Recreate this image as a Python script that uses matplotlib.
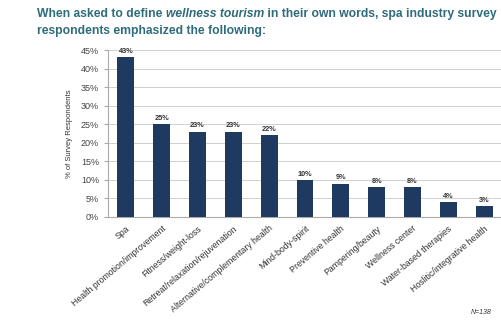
import numpy as np
import matplotlib.pyplot as plt
from matplotlib.transforms import offset_copy

categories = ["Spa", "Health promotion/improvement", "Fitness/weight-loss",
              "Retreat/relaxation/rejuvenation", "Alternative/complementary health",
              "Mind-body-spirit", "Preventive health", "Pampering/beauty",
              "Wellness center", "Water-based therapies", "Hoslitic/integrative health"]
values = [43, 25, 23, 23, 22, 10, 9, 8, 8, 4, 3]
y_ticks = [0, 5, 10, 15, 20, 25, 30, 35, 40, 45]

bar_color = "#1f3a60"
title_color = "#2e6b7b"

plt.rcParams['font.family'] = ['Liberation Sans', 'DejaVu Sans']

fig = plt.figure(figsize=(5.02, 3.23), dpi=100)
ax = fig.add_axes([108 / 502, 1 - 217 / 323, 394 / 502, 167 / 323])

x = np.arange(len(categories))
ax.bar(x, values, width=0.47, color=bar_color, zorder=3)
for xi, v in zip(x, values):
    ax.text(xi, v + 0.6, f"{v}%", ha="center", va="bottom", fontsize=5.3,
            fontweight="bold", color="#333333")

ax.set_ylim(0, 45)
ax.set_xlim(-0.5, len(categories) - 0.5)
ax.set_yticks(y_ticks)
ax.set_yticklabels([f"{t}%" for t in y_ticks], fontsize=6.5, color="#444444")
ax.yaxis.grid(True, color="#d0d0d0", linewidth=0.7, zorder=0)
ax.set_xticks(x)
ax.set_xticklabels(categories, rotation=40, ha="right", rotation_mode="anchor",
                   fontsize=6.3, color="#333333")
ax.tick_params(axis="x", length=0, pad=5)
ax.tick_params(axis="y", length=3, color="#aaaaaa")
for s in ["top", "right"]:
    ax.spines[s].set_visible(False)
ax.spines["left"].set_color("#aaaaaa")
ax.spines["bottom"].set_color("#aaaaaa")
ax.set_ylabel("% of Survey Respondents", fontsize=5.5, color="#333333", labelpad=6)

# title: first line has an italic piece, so draw it in parts
tfs = 8.7
parts = [("When asked to define ", "normal"), ("wellness tourism", "italic"),
         (" in their own words, spa industry survey", "normal")]
renderer = fig.canvas.get_renderer()
tr = fig.transFigure
for txt, st in parts:
    t = fig.text(37 / 502, 1 - 14 / 323, txt, fontsize=tfs, fontweight="bold",
                 style=st, color=title_color, va="center", transform=tr)
    w = t.get_window_extent(renderer).width
    tr = offset_copy(tr, fig=fig, x=w, y=0, units="dots")
fig.text(37 / 502, 1 - 31 / 323, "respondents emphasized the following:",
         fontsize=tfs, fontweight="bold", color=title_color, va="center")
fig.text(492 / 502, 1 - 313 / 323, "N=138", fontsize=5, style="italic",
         color="#333333", ha="right", va="center")

fig.savefig("out.png", dpi=100)
